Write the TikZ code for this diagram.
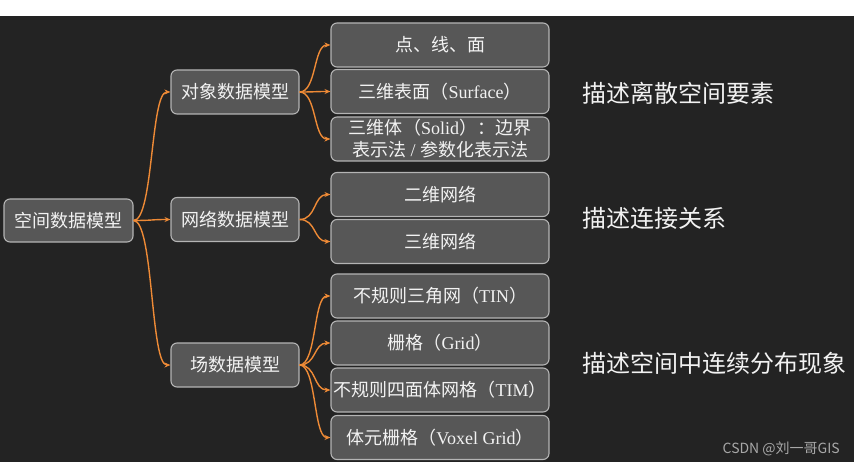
\documentclass[tikz,border=0pt]{standalone}
\usepackage{fontspec}
\setmainfont{Noto Sans CJK SC}
\newfontfamily\tnr{Liberation Serif}
\usetikzlibrary{arrows.meta}
\definecolor{bgdark}{HTML}{232323}
\definecolor{boxfill}{HTML}{575757}
\definecolor{boxline}{HTML}{B4B4B4}
\definecolor{conncol}{HTML}{EE8A36}
\definecolor{txtcol}{HTML}{F2F2F2}
\definecolor{wmcol}{HTML}{A8A8A8}
\tikzset{
  boxbase/.style={draw=boxline, line width=1.1pt, fill=boxfill, rounded corners=6pt,
    text=txtcol, inner sep=0pt, align=center, minimum height=44pt,
    font=\fontsize{18pt}{22pt}\selectfont},
  rootbox/.style={boxbase, minimum width=129pt, minimum height=43pt},
  midbox/.style={boxbase, minimum width=128pt},
  leafbox/.style={boxbase, minimum width=218pt},
  desc/.style={anchor=west, text=txtcol, inner sep=0pt, font=\fontsize{24pt}{28pt}\selectfont},
  conn/.style={draw=conncol, line width=1.4pt, -{Stealth[length=6pt,width=5pt]}},
}
\begin{document}
\begin{tikzpicture}[x=1pt,y=-1pt]
\fill[white] (0,0) rectangle (858,462);
\fill[bgdark] (0,16) rectangle (854,462);
\useasboundingbox (0,0) rectangle (858,462);

\node[rootbox] (root) at (68.5,220.5) {空间数据模型};

\node[midbox] (obj) at (235,92) {对象数据模型};
\node[midbox] (net) at (235,219.5) {网络数据模型};
\node[midbox] (fld) at (235,365) {场数据模型};

\node[leafbox] (o1) at (440,45) {点、线、面};
\node[leafbox] (o2) at (440,91.5) {三维表面（{\tnr Surface}）};
\node[leafbox] (o3) at (440,139) {三维体（{\tnr Solid}）：边界\\表示法{\tnr\ /\ }参数化表示法};
\node[leafbox] (n1) at (440,194.5) {二维网络};
\node[leafbox] (n2) at (440,241.5) {三维网络};
\node[leafbox] (f1) at (440,296) {不规则三角网（{\tnr TIN}）};
\node[leafbox] (f2) at (440,343) {栅格（{\tnr Grid}）};
\node[leafbox] (f3) at (440,390) {不规则四面体网格（{\tnr TIM}）};
\node[leafbox] (f4) at (440,437.5) {体元栅格（{\tnr Voxel Grid}）};

\node[desc] (d1) at (582,93) {描述离散空间要素};
\node[desc] (d2) at (582,218) {描述连接关系};
\node[desc] (d3) at (582,363) {描述空间中连续分布现象};

\node[anchor=east, text=wmcol, inner sep=0pt, font=\fontsize{14pt}{16pt}\selectfont] (wm) at (840,449) {CSDN @刘一哥GIS};

\foreach \c in {obj,net,fld}
  \draw[conn] (root.east) .. controls +(20,0) and +(-20,0) .. (\c.west);
\foreach \c in {o1,o2,o3}
  \draw[conn] (obj.east) .. controls +(17,0) and +(-17,0) .. (\c.west);
\foreach \c in {n1,n2}
  \draw[conn] (net.east) .. controls +(17,0) and +(-17,0) .. (\c.west);
\foreach \c in {f1,f2,f3,f4}
  \draw[conn] (fld.east) .. controls +(17,0) and +(-17,0) .. (\c.west);
\end{tikzpicture}
\end{document}
